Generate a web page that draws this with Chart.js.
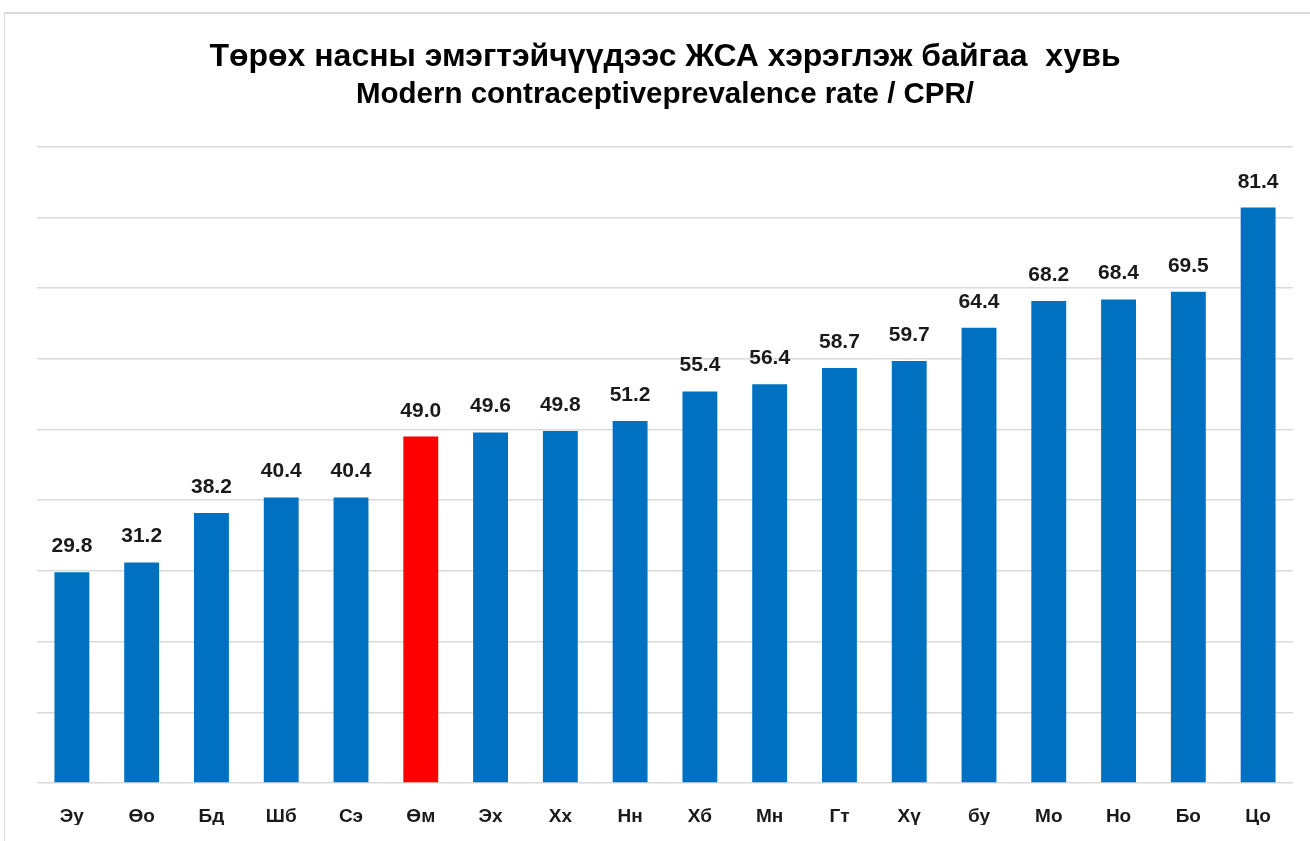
<!DOCTYPE html>
<html>
<head>
<meta charset="utf-8">
<script src="https://cdn.jsdelivr.net/npm/chart.js@4.4.1/dist/chart.umd.min.js"></script>
<style>
	body { margin: 0; background: #fff; }
	#wrap { position: relative; width: 1310px; height: 841px; }
	#frame { position: absolute; left: 4px; top: 12px; right: -2px; bottom: -2px;
		border-top: 2px solid #d9d9d9; border-left: 1px solid #d9d9d9; }
	#cprChart { position: absolute; left: 0; top: 0; }
</style>
</head>
<body>
<div id="wrap">
	<div id="frame"></div>
	<canvas id="cprChart" width="1310" height="841"></canvas>
</div>
<script>
/* aimag codes */
let aimag = ['Эу', 'Өо', 'Бд', 'Шб', 'Сэ', 'Өм', 'Эх', 'Хх', 'Нн', 'Хб', 'Мн', 'Гт', 'Хү', 'бу', 'Мо', 'Но', 'Бо', 'Цо']

/* CPR % */
let cpr = [29.8, 31.2, 38.2, 40.4, 40.4, 49.0, 49.6, 49.8, 51.2, 55.4, 56.4, 58.7, 59.7, 64.4, 68.2, 68.4, 69.5, 81.4]

/* highlighted aimag */
let highlight = 'Өм'

let yMax = 90
let yStep = 10

let titleMn = 'Төрөх насны эмэгтэйчүүдээс ЖСА хэрэглэж байгаа  хувь'
let titleEn = 'Modern contraceptiveprevalence rate / CPR/'

function ById(id) {
	return document.getElementById(id);
}

// bar colors
let barColors = []
for (a of aimag) {
	barColors.push(a == highlight ? '#FF0000' : '#0070C0')
}

// value labels above bars
const valueLabels = {
	id: 'valueLabels',
	afterDatasetsDraw(chart) {
		const ctx = chart.ctx
		const meta = chart.getDatasetMeta(0)
		ctx.save()
		ctx.font = 'bold 21px "Liberation Sans", Arial, sans-serif'
		ctx.fillStyle = '#1a1a1a'
		ctx.textAlign = 'center'
		ctx.textBaseline = 'alphabetic'
		meta.data.forEach(function(bar, i) {
			ctx.fillText(cpr[i].toFixed(1), bar.x, bar.y - 20)
		})
		ctx.restore()
	}
}

var chartArea = ById('cprChart').getContext('2d');

var cprChart = new Chart(chartArea, {
	type: 'bar',
	data: {
		labels: aimag,
		datasets: [{
			label: 'CPR',
			data: cpr,
			backgroundColor: barColors,
			borderWidth: 0,
			barPercentage: 0.5,
			categoryPercentage: 1.0
		}]
	},
	options: {
		responsive: false,
		animation: false,
		layout: {
			padding: { top: 0, left: 37, right: 17, bottom: 16 }
		},
		plugins: {
			legend: { display: false },
			tooltip: { enabled: false },
			title: {
				display: true,
				text: titleMn,
				color: '#000',
				font: { family: '"Liberation Sans", Arial, sans-serif', size: 32, weight: 'bold' },
				padding: { top: 38, bottom: 0 }
			},
			subtitle: {
				display: true,
				text: titleEn,
				color: '#000',
				font: { family: '"Liberation Sans", Arial, sans-serif', size: 29.5, weight: 'bold' },
				padding: { top: 1, bottom: 34 }
			}
		},
		scales: {
			x: {
				grid: { display: false, drawTicks: false },
				border: { display: false },
				afterFit: function(scale) { scale.height = 42 },
				ticks: {
					color: '#1a1a1a',
					padding: 22,
					maxRotation: 0,
					font: { family: '"Liberation Sans", Arial, sans-serif', size: 19, weight: 'bold' }
				}
			},
			y: {
				min: 0,
				max: yMax,
				ticks: { display: false, stepSize: yStep },
				grid: { color: '#d9d9d9', lineWidth: 1.5, drawTicks: false },
				border: { display: false }
			}
		}
	},
	plugins: [valueLabels]
})
</script>
</body>
</html>
